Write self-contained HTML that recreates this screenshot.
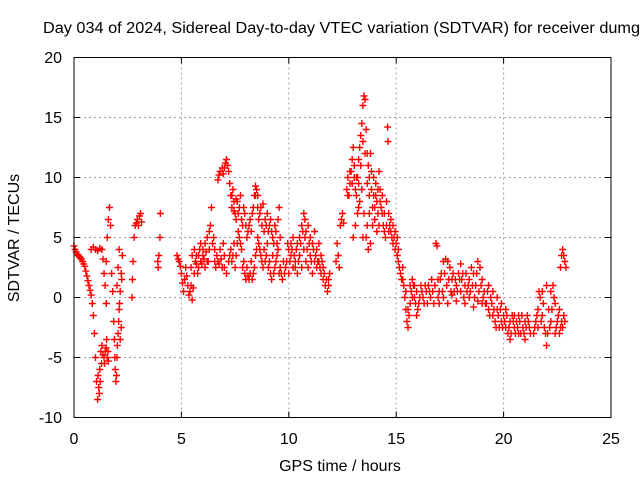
<!DOCTYPE html>
<html><head><meta charset="utf-8"><style>
body{margin:0;background:#fff;width:640px;height:480px;overflow:hidden}
svg text{font-family:"Liberation Sans",sans-serif;font-size:16px;fill:#000}
</style></head><body>
<svg id="chart" width="640" height="480">
<text x="43" y="33" textLength="597" lengthAdjust="spacingAndGlyphs" style="font-size:15.5px">Day 034 of 2024, Sidereal Day-to-day VTEC variation (SDTVAR) for receiver dumg</text>
<g id="grid"></g>
<g id="ticks"></g>
<g id="marks"></g>
<rect x="74" y="57.5" width="537" height="360" fill="none" stroke="#000" stroke-width="1"/>
<text x="340" y="471" text-anchor="middle">GPS time / hours</text>
<text transform="translate(19,238) rotate(-90)" text-anchor="middle">SDTVAR / TECUs</text>
</svg>
<script>
const xTicks=[0,5,10,15,20,25];
const yTicks=[-10,-5,0,5,10,15,20];
const gpsHours=[0,0.05,0.1,0.15,0.2,0.25,0.3,0.35,0.4,0.45,0.5,0.55,0.6,0.65,0.7,0.75,0.8,0.85,0.9,0.95,1.0,1.05,1.1,1.15,1.2,1.25,
0.8,0.9,1.0,1.1,1.2,1.3,1.35,1.4,1.45,1.5,1.3,1.35,1.4,1.45,1.5,1.55,1.6,1.5,1.55,1.6,1.65,1.7,1.75,1.8,1.85,1.9,1.95,2.0,2.05,2.1,2.15,2.2,2.25,2.0,2.05,2.1,2.15,2.2,
2.7,2.72,2.75,2.8,2.85,2.9,2.95,3.0,3.05,3.1,3.15,3.9,3.95,4.0,4.02,3.92,
4.8,4.85,4.9,4.95,5.0,5.05,5.1,5.15,5.2,5.3,5.35,5.4,5.5,5.45,5.5,5.6,5.7,5.8,5.9,6.0,6.1,6.2,6.3,6.35,6.4,6.5,6.55,6.6,6.7,6.8,6.9,7.0,5.6,5.7,5.8,5.9,6.0,
6.7,6.75,6.8,6.9,6.95,7.0,7.05,7.1,7.15,7.2,7.25,7.3,7.35,7.4,7.45,7.5,7.55,7.6,7.7,7.8,7.9,8.0,8.1,8.2,8.3,8.4,8.45,8.5,8.55,8.6,8.7,8.8,8.9,9.0,9.1,9.2,9.3,9.4,9.5,9.55,9.6,
7.3,7.4,7.5,7.6,7.7,7.8,7.9,8.0,8.1,8.2,8.3,8.4,8.5,8.6,8.7,8.8,8.9,9.0,9.1,9.2,9.3,9.4,7.0,7.1,7.2,
9.6,9.7,9.8,9.9,10.0,10.1,10.2,10.3,10.4,10.5,10.6,10.7,10.75,10.8,10.9,11.0,11.1,11.2,11.3,11.4,11.5,11.6,11.7,11.8,11.85,11.9,10.0,10.1,10.2,10.3,10.4,10.5,10.6,10.7,10.8,10.9,11.0,11.1,11.2,11.3,11.4,11.5,11.6,
12.3,12.35,12.4,12.45,12.5,12.55,12.2,12.25,
12.7,12.75,12.8,12.85,12.9,12.95,13.0,13.05,13.1,13.15,13.2,13.25,13.3,13.35,13.4,13.45,13.5,13.55,13.6,13.65,13.7,13.75,13.8,13.85,13.9,13.95,14.0,14.05,14.1,14.15,14.2,14.25,14.3,14.35,14.4,14.45,14.5,14.55,14.6,14.62,14.65,14.7,14.75,14.8,14.85,14.9,14.95,15.0,15.05,15.1,13.0,13.1,13.2,13.3,13.4,13.5,13.6,13.7,13.8,13.9,14.0,14.1,14.2,
15.1,15.2,15.25,15.3,15.35,15.4,15.45,15.5,15.55,15.6,15.65,15.7,15.75,15.8,15.85,15.9,15.95,16.0,16.1,16.2,16.3,16.4,16.5,16.6,16.7,16.8,16.85,16.9,16.95,17.0,17.1,17.2,17.3,17.4,17.5,17.6,17.7,17.8,17.9,18.0,18.1,18.2,18.3,18.4,18.5,18.6,18.7,18.8,18.9,19.0,17.0,17.2,17.4,17.6,17.8,18.0,18.2,18.4,18.6,18.8,19.0,
19.1,19.2,19.3,19.4,19.5,19.6,19.7,19.8,19.9,20.0,20.1,20.2,20.3,20.4,20.5,20.6,20.7,20.8,20.9,21.0,21.1,21.2,19.3,19.5,19.7,19.9,20.1,20.3,20.5,20.7,21.0,
21.4,21.5,21.6,21.7,21.8,21.9,22.0,22.05,22.1,22.2,22.3,22.4,22.5,22.6,21.6,21.8,22.0,22.2,22.4,22.6,22.7,22.75,22.8,22.85,
22.65,22.7,22.75,22.8,22.85,22.9];
const sdtvar=[4.3,4.0,3.8,3.6,3.5,3.4,3.3,3.2,3.0,2.8,2.6,2.2,1.8,1.4,1.0,0.6,0.2,-0.5,-1.5,-3,-5,-7,-8.5,-7.5,-6,-4.5,
4.0,4.2,4.0,3.9,4.1,4.0,3.2,2.0,1.0,-0.5,-4,-4.8,-5,-4.5,-4.2,-5,-5.3,3,5,6.5,7.5,6,2,0.5,-2,-5,-7,-5,-3,-1,0.5,2,3.5,1,2.5,4,-3.5,-2.5,
0,1.5,3,5,6,6.2,6.5,6.0,6.8,7.0,6.3,3,3.5,5,7,2.5,
3.5,3.2,3.0,2.6,2.0,1.2,0.5,1.5,2.5,1.0,0.2,0.5,-0.2,2.5,3.5,4,3.5,2.5,3.0,3.5,4.5,5.0,4.0,6,7.5,5,3,2.5,3,4,2.5,3.5,2.0,2.8,3.5,4.5,4.0,
9.8,10.2,10.5,10.8,10.3,10.8,11.2,11.5,11.0,10.5,9.5,8.5,7.5,9,8,7,6.5,8,7.5,6.5,7.5,6.0,5.5,6.5,7.0,8.5,9.3,9.0,7.5,6.5,7.5,7.8,6.5,7.0,6.0,5.5,4.5,5.5,6.5,7.5,5.0,
4.0,3.5,2.5,4.5,5,4,3,1.5,1.8,2.0,1.5,2.5,4,4.5,3.5,2.5,3.0,4.5,3.0,1.5,2.0,3.0,2.5,2.0,3.0,
2.5,1.5,2.0,3.0,4.0,3.5,2.5,3.0,4.5,5.0,6.0,7.0,6.5,5.5,6.0,5.0,4.5,5.5,4.0,3.0,2.0,1.5,1.0,0.5,1.5,2.0,2.0,4.5,5.0,2.5,2.0,3.5,2.5,4,3,2.5,3.5,2.0,3.0,2.5,4.5,3.5,2.5,
3.5,2.5,6,6.5,7.0,6.2,3.0,4.5,
9,10,8.5,9.5,10.5,11.5,12.5,10,9,8.5,10,11.5,12.5,13.5,14.5,16,16.8,16.5,14,12,11,10,12,9,7.5,8.5,7.5,9.5,8,7,10.5,9,7.5,7,6,5.5,5,8,14.2,13,7,6,5.5,5,4.5,5,4,4.5,3.5,4,5,6,7,8,9,7,5,4,4.5,6,6.5,5.5,6,
3,2,1.5,2.5,1,0,-1,-2,-2.5,-1.5,-0.5,0.5,1.5,1.0,0,-0.5,-1.5,-1,0,0.5,-0.5,0.5,1.0,0,0.5,1.0,4.5,4.3,1.5,0.5,2.0,3.0,3.2,3.0,2.5,1.5,0.5,1.0,2.0,2.8,2.0,1.0,0.5,1.5,2.5,2.0,1.0,3.0,2.5,1.5,-0.5,0,-0.5,0.2,-0.3,0.5,-0.5,0,-0.8,-0.3,-0.5,
0.5,-0.5,-1,0,-1.5,-2,-1,-2.5,-2,-1.5,-2.5,-3,-2,-1.5,-2.5,-2,-1.5,-3,-2.5,-2,-1.5,-2.5,1,0.5,0,-0.5,-1,-3.5,-1.5,-3,-3.5,
-3,-2,-1,0,-1.5,-2.5,-4,-3,-1,0.5,1,-0.5,-2,-3,-2.5,0.5,1,-2,-3,-1,-2,-2.5,-1.5,-2,
2.5,3.5,4,3.5,3,2.5];
const gpsHoursExtra=[5.25,5.45,5.55,5.65,5.75,5.85,5.95,6.05,6.15,6.25,6.45,6.55,6.65,6.75,6.85,6.95,6.3,6.2,6.1,
7.35,7.45,7.55,7.65,7.75,7.85,7.95,8.05,8.15,8.25,8.35,8.45,8.55,8.65,8.75,8.85,8.95,9.05,9.15,9.25,9.35,9.45,9.5,
7.25,7.35,7.45,7.55,7.65,7.75,7.85,7.95,8.05,8.15,8.25,8.35,8.45,8.55,8.65,8.75,8.85,8.95,9.05,9.15,9.25,9.35,9.45,9.55,
9.65,9.75,9.85,9.95,10.05,10.15,10.25,10.35,10.45,10.55,10.65,10.75,10.85,10.95,11.05,11.15,11.25,11.35,11.45,11.55,11.65,11.75,11.85,
12.75,12.85,12.95,13.05,13.15,13.25,13.35,13.45,13.55,13.65,13.75,13.85,13.95,14.05,14.15,14.25,14.35,14.45,14.55,14.65,14.75,14.85,14.95,15.05,13.25,13.45,13.65,13.75,
15.15,15.3,15.45,15.55,15.65,15.75,15.85,15.95,16.05,16.15,16.25,16.35,16.45,16.55,16.65,16.75,16.95,17.05,17.15,17.25,17.35,17.45,17.55,17.65,17.75,17.85,17.95,18.05,18.15,18.25,18.35,18.45,18.55,18.65,18.75,18.85,18.95,19.05,
19.15,19.25,19.35,19.45,19.55,19.65,19.75,19.85,19.95,20.05,20.15,20.25,20.35,20.45,20.55,20.65,20.75,20.85,20.95,21.05,21.15,21.25,
21.45,21.55,21.65,21.75,21.85,21.95,22.15,22.25,22.35,22.45,22.55,22.65,
1.12,1.18,1.22,1.28,1.42,1.52,1.58,1.88,1.92,1.98,2.02,2.08,2.12,2.22];
const sdtvarExtra=[1.8,1.0,0.8,3.0,2.0,4.0,2.8,3.2,3.8,3.0,4.5,4.0,3.5,2.8,3.2,4.5,5.5,3,2.5,
8.5,7.2,8.2,7.0,8.5,6.0,7.0,5.0,6.0,5.5,7.5,8.5,8.5,7.0,6.0,5.5,6.0,5.5,6.5,5.0,6.0,4.5,4.0,
3.5,3.0,4.5,3.5,5.5,4.5,2.5,2.0,2.5,1.5,3.0,2.0,3.5,5.0,4.0,3.0,4.0,3.5,2.5,2.0,3.5,2.5,3.5,2.0,
2.0,3.0,2.5,4.5,3.0,4.0,3.5,4.0,3.0,4.5,5.5,5.0,4.0,4.5,3.0,4.0,3.5,3.0,2.5,3.0,2.0,1.5,1.0,
8.5,10.5,9.5,11,10,9.5,11,13,12,9.5,8.5,10.5,10,8.5,9,8,8.5,7,6,5.5,6.5,6,5.5,5,7.5,5,6,7,
2.5,1.5,0.5,-1,1,0,1,0.5,-0.5,1,0,1,-0.5,0.5,1.5,-0.5,0,1.5,0.5,2,1,1.5,0.5,2,1.5,0.5,1.5,1.5,0,2,1,0.5,1,0,2,0.5,1,0,
-0.5,0.5,-1.5,-0.5,-1,-2.5,-1.5,-1,-2.5,-2,-1.5,-2.5,-3,-2,-3,-2.5,-2,-1.5,-3,-2.5,-2,-3,
-2.5,-1.5,0.5,-2,-0.5,-3,-2.5,-1,0,-2.5,-1.5,-2.5,
-6.5,-8,-7,-5.5,-5.5,-3.5,-4.5,-3.5,-6,-6.5,-4,-2,-0.5,1.5];
const X0=74,X1=611,Y0=417.5,Y1=57.5;
const xs=t=>X0+(t-0)/(25-0)*(X1-X0);
const ys=v=>Y0-(v+10)/(30)*(Y0-Y1);
const NS='http://www.w3.org/2000/svg';
const grid=document.getElementById('grid'),ticks=document.getElementById('ticks'),marks=document.getElementById('marks');
function mk(tag,attrs,parent){const e=document.createElementNS(NS,tag);for(const k in attrs)e.setAttribute(k,attrs[k]);parent.appendChild(e);return e;}
xTicks.forEach(t=>{const x=xs(t);
 if(t>0&&t<25){const g=mk('line',{x1:x,x2:x,y1:Y1,y2:Y0,stroke:'#a0a0a0','stroke-dasharray':'2,3'},grid);
 
 }
 const tl=mk('text',{x:x,y:444,'text-anchor':'middle'},ticks);tl.textContent=t;
 
 
 mk('line',{x1:x,x2:x,y1:Y0,y2:Y0-6,stroke:'#000'},ticks);
 mk('line',{x1:x,x2:x,y1:Y1,y2:Y1+6,stroke:'#000'},ticks);
});
yTicks.forEach(v=>{const y=ys(v);
 if(v>-10&&v<20){const g=mk('line',{x1:X0,x2:X1,y1:y,y2:y,stroke:'#a0a0a0','stroke-dasharray':'2,3'},grid);
 
 }
 const tl=mk('text',{x:62,y:y+5.5,'text-anchor':'end'},ticks);tl.textContent=v;
 
 
 mk('line',{x1:X0,x2:X0+6,y1:y,y2:y,stroke:'#000'},ticks);
 mk('line',{x1:X1,x2:X1-6,y1:y,y2:y,stroke:'#000'},ticks);
});
const allT=gpsHours.concat(gpsHoursExtra), allV=sdtvar.concat(sdtvarExtra);
let d='';
allT.forEach((t,i)=>{const x=xs(t),y=ys(allV[i]);d+=`M${x-3.5},${y}h7M${x},${y-3.5}v7`;});
const p=mk('path',{d:d,stroke:'#ff0000','stroke-width':1.4,fill:'none'},marks);


</script>
</body></html>
